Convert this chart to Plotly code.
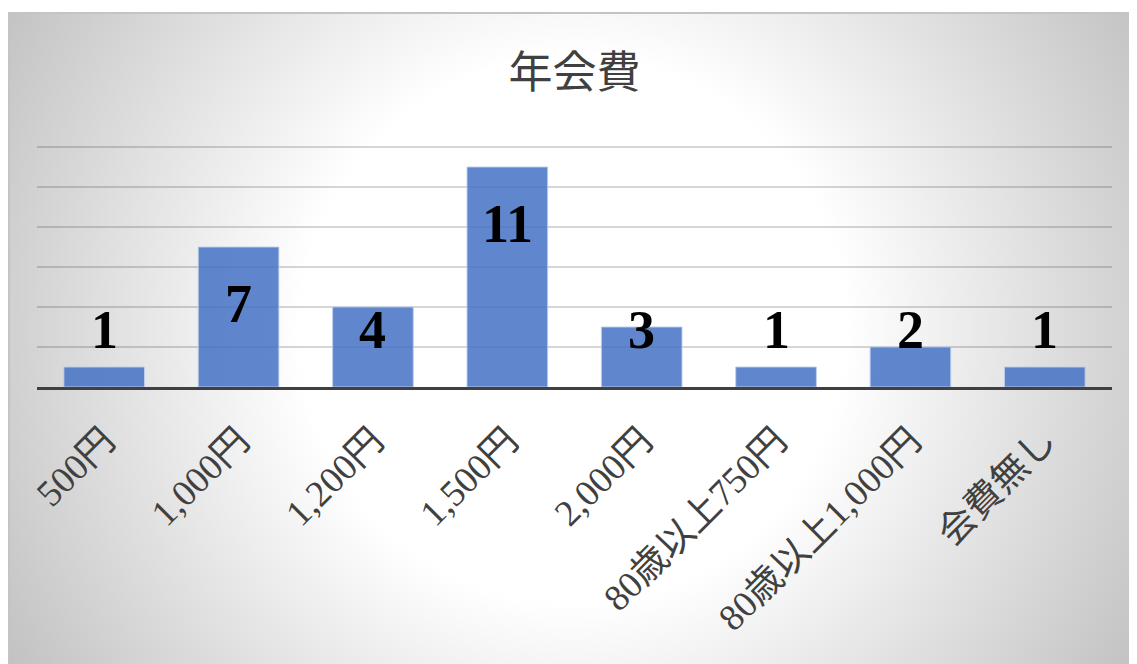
import base64
import plotly.graph_objects as go

# ---- data ----
categories = ["500円", "1,000円", "1,200円", "1,500円", "2,000円",
              "80歳以上750円", "80歳以上1,000円", "会費無し"]
counts = [1, 7, 4, 11, 3, 1, 2, 1]
title_text = "年会費"

# ---- geometry (page has an 8px body margin) ----
W, H = 1129, 656
L, R, T, B = 29, 25, 137, 277
plot_w = W - L - R
plot_h = H - T - B
y_max = 12.1

# radial gradient background for chart area (styling only)
cw, ch = 1129, 652
svg = f'''<svg xmlns="http://www.w3.org/2000/svg" width="{cw}" height="{ch}" viewBox="0 0 {cw} {ch}">
<defs><radialGradient id="g" gradientUnits="userSpaceOnUse" cx="565" cy="318" r="680">
<stop offset="0" stop-color="#ffffff"/><stop offset="0.4" stop-color="#ffffff"/>
<stop offset="1" stop-color="#bebebe"/></radialGradient></defs>
<rect x="0" y="0" width="{cw}" height="{ch}" fill="url(#g)"/>
<line x1="0" y1="1" x2="{cw}" y2="1" stroke="#c4c4c4" stroke-width="2"/>
<line x1="1" y1="0" x2="1" y2="{ch}" stroke="#c4c4c4" stroke-width="2"/>
</svg>'''
src = "data:image/svg+xml;base64," + base64.b64encode(svg.encode()).decode()

fig = go.Figure()
fig.add_trace(go.Bar(
    x=categories, y=counts,
    marker=dict(color="rgba(68,114,196,0.85)",
                line=dict(color="rgba(190,205,235,0.9)", width=1)),
    hoverinfo="x+y",
))

label_y = [max(v - 2.85, 2.85) for v in counts]
for c, v, ly in zip(categories, counts, label_y):
    fig.add_annotation(x=c, y=ly, text=f"<b>{v}</b>", showarrow=False,
                       xanchor="center", yanchor="middle",
                       font=dict(family="Liberation Serif, serif", size=54, color="#000000"))

fig.update_layout(
    width=W, height=H,
    margin=dict(l=L, r=R, t=T, b=B),
    paper_bgcolor="#ffffff",
    plot_bgcolor="rgba(0,0,0,0)",
    bargap=0.4,
    showlegend=False,
    title=dict(text=title_text, x=0.5, xref="paper", xanchor="center",
               y=1 - 65 / H, yref="container", yanchor="middle",
               font=dict(family="Noto Sans CJK JP", size=44, color="#404040")),
    images=[dict(source=src, xref="paper", yref="paper",
                 x=(0 - L) / plot_w, y=(H - B - 4) / plot_h,
                 sizex=cw / plot_w, sizey=ch / plot_h,
                 xanchor="left", yanchor="top", sizing="stretch", layer="below")],
    xaxis=dict(tickangle=-45, showline=True, linecolor="#404040", linewidth=3,
               ticks="", showgrid=False, ticklabelstandoff=14,
               tickfont=dict(family="Liberation Serif, Noto Sans CJK JP", size=37, color="#404040")),
    yaxis=dict(range=[0, y_max], dtick=2, showticklabels=False, showgrid=True,
               gridcolor="rgba(0,0,0,0.16)", gridwidth=1.5, zeroline=False, ticks=""),
)

fig.write_html("out.html")
